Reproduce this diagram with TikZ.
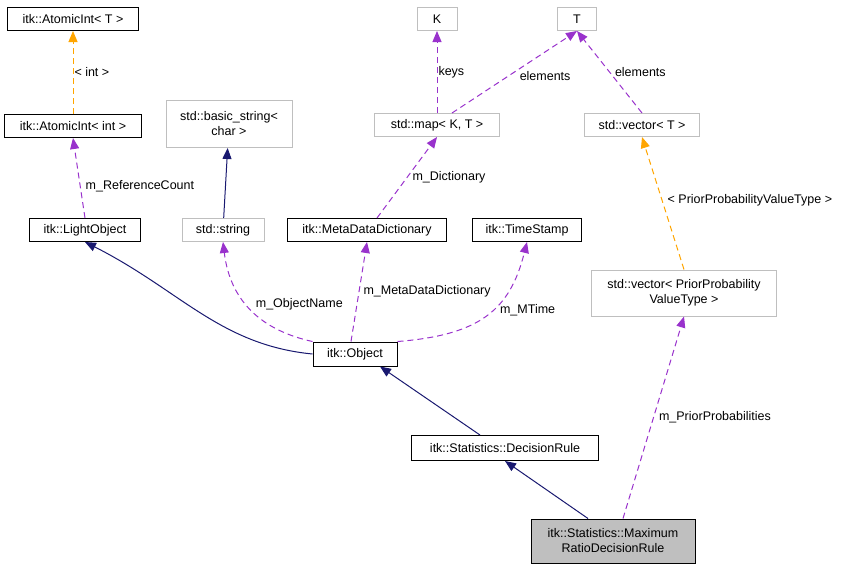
\documentclass[tikz,border=0pt]{standalone}
\usepackage{fontspec}
\setmainfont{Liberation Sans}
\usetikzlibrary{arrows.meta}
\definecolor{navy}{RGB}{25,25,112}
\definecolor{orchid}{RGB}{153,50,204}
\definecolor{amber}{RGB}{255,165,0}
\definecolor{boxgray}{RGB}{191,191,191}
\begin{document}
\begin{tikzpicture}[
    x=1pt, y=-1pt, font=\fontsize{12.5}{15}\selectfont, line width=1pt,
    cls/.style={rectangle, draw=black, inner sep=2pt, minimum height=23pt, align=center},
    ext/.style={cls, draw=boxgray},
    inh/.style={draw=navy, -{Triangle[width=9pt,length=11pt]}},
    use/.style={draw=orchid, dash pattern=on 6pt off 4pt, -{Triangle[width=9pt,length=11pt]}},
    tpl/.style={draw=amber, dash pattern=on 6pt off 4pt, -{Triangle[width=9pt,length=11pt]}},
    lbl/.style={inner sep=1pt},
  ]
  \useasboundingbox (0,0) rectangle (843,571);
  % Classes
  \node[cls, minimum width=131pt] (atomic_T) at (73,19) {itk::AtomicInt< T >};
  \node[cls, minimum width=137pt] (atomic_int) at (73,126) {itk::AtomicInt< int >};
  \node[ext, minimum width=126pt, minimum height=47pt] (basic_str) at (229,124) {std::basic\_string<\\char >};
  \node[ext, minimum width=40pt] (K) at (437,19) {K};
  \node[ext, minimum width=39pt] (T) at (577,19) {T};
  \node[ext, minimum width=125pt] (map) at (437,125) {std::map< K, T >};
  \node[ext, minimum width=115pt] (vec_T) at (642,125) {std::vector< T >};
  \node[cls, minimum width=111pt] (light) at (85,230) {itk::LightObject};
  \node[ext, minimum width=82pt] (string) at (223,230) {std::string};
  \node[cls, minimum width=159pt] (meta) at (367,230) {itk::MetaDataDictionary};
  \node[cls, minimum width=109pt] (stamp) at (527,230) {itk::TimeStamp};
  \node[ext, minimum width=185pt, minimum height=46pt] (vec_prior) at (684,293) {std::vector< PriorProbability\\ValueType >};
  \node[cls, minimum width=84pt, minimum height=24pt] (object) at (355,354) {itk::Object};
  \node[cls, minimum width=187pt, minimum height=25pt] (rule) at (505,448) {itk::Statistics::DecisionRule};
  \node[cls, fill=boxgray, minimum width=164pt, minimum height=44pt] (maxrule) at (613,541) {itk::Statistics::Maximum\\RatioDecisionRule};

  % Template instantiation
  \draw[tpl] (atomic_int) -- (atomic_T) node[lbl, midway, right] {< int >};
  \draw[tpl] (vec_prior.north) -- (vec_T.south) node[lbl, pos=0.52, right=4pt] {< PriorProbabilityValueType >};
  % Inheritance
  \draw[inh] (string) -- (basic_str);
  \draw[inh] (object.west) .. controls (220,345) and (180,290) .. (light.south);
  \draw[inh] ([xshift=-25pt]rule.north) -- ([xshift=25pt]object.south);
  \draw[inh] ([xshift=-25pt]maxrule.north) -- (rule.south);
  % Members
  \draw[use] (light.north) -- (atomic_int.south) node[lbl, pos=0.4, right=4pt] {m\_ReferenceCount};
  \draw[use] (object.north west) .. controls (260,330) and (230,300) .. (string.south) node[lbl, pos=0.55, right=8pt] {m\_ObjectName};
  \draw[use] ([xshift=-4pt]object.north) -- (meta.south) node[lbl, midway, right=3pt] {m\_MetaDataDictionary};
  \draw[use] (object.north east) .. controls (480,335) and (510,310) .. (stamp.south) node[lbl, pos=0.55, right=6pt] {m\_MTime};
  \draw[use] ([xshift=10pt]meta.north) -- (map.south) node[lbl, midway, right=4pt] {m\_Dictionary};
  \draw[use] (map.north) -- (K.south) node[lbl, midway, right] {keys};
  \draw[use] ([xshift=15pt]map.north) -- (T.south) node[lbl, pos=0.45, right=10pt] {elements};
  \draw[use] (vec_T.north) -- (T.south) node[lbl, midway, right=4pt] {elements};
  \draw[use] ([xshift=10pt]maxrule.north) -- (vec_prior.south) node[lbl, midway, right=4pt] {m\_PriorProbabilities};
\end{tikzpicture}
\end{document}
